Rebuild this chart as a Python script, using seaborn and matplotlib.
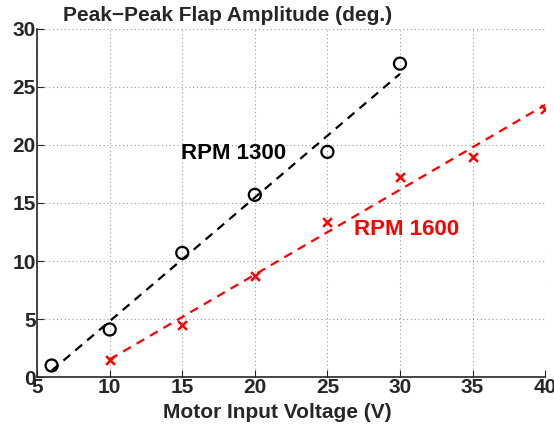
import matplotlib
matplotlib.use("Agg")
import matplotlib.pyplot as plt
import seaborn as sns
import pandas as pd

# Data
volt_1300 = [6, 10, 15, 20, 25, 30]
amp_1300 = [1.0, 4.1, 10.7, 15.7, 19.4, 27.0]
volt_1600 = [10, 15, 20, 25, 30, 35, 40]
amp_1600 = [1.5, 4.5, 8.7, 13.4, 17.2, 19.0, 23.1]

df1 = pd.DataFrame({"volt": volt_1300, "amp": amp_1300})
df2 = pd.DataFrame({"volt": volt_1600, "amp": amp_1600})

sns.set_style("ticks")
plt.rcParams["font.family"] = ["Liberation Sans", "DejaVu Sans"]
plt.rcParams["font.weight"] = "bold"

fig = plt.figure(figsize=(5.54, 4.30), dpi=100)
ax = fig.add_axes([0.067, 0.123, 0.917, 0.810])

# fitted dashed lines
sns.regplot(data=df1, x="volt", y="amp", ax=ax, scatter=False, ci=None,
            line_kws={"color": "black", "ls": (0, (4, 3)), "lw": 1.6})
sns.regplot(data=df2, x="volt", y="amp", ax=ax, scatter=False, ci=None,
            line_kws={"color": "red", "ls": (0, (4, 3)), "lw": 1.6})

# markers
sns.scatterplot(data=df1, x="volt", y="amp", ax=ax, marker="o", s=75,
                facecolor="none", edgecolor="black", linewidth=1.6, zorder=3)
sns.scatterplot(data=df2, x="volt", y="amp", ax=ax, marker="x", s=40,
                color="red", linewidth=1.8, zorder=3)

ax.text(14.9, 19.3, "RPM 1300", color="black", fontsize=16, fontweight="bold",
        va="center", ha="left")
ax.text(26.8, 12.7, "RPM 1600", color="red", fontsize=16, fontweight="bold",
        va="center", ha="left")

ax.set_xlim(5, 40)
ax.set_ylim(0, 30)
ax.set_xticks(range(5, 41, 5))
ax.set_yticks(range(0, 31, 5))
ax.grid(True, ls=(0, (1, 2.5)), color="#999999", lw=0.8)
ax.tick_params(direction="in", length=5, labelsize=15, pad=1)
for lab in ax.get_xticklabels() + ax.get_yticklabels():
    lab.set_fontweight("bold")
sns.despine(ax=ax)
ax.spines["left"].set_linewidth(1.2)
ax.spines["bottom"].set_linewidth(1.2)

ax.set_xlabel("")
ax.set_ylabel("")
fig.text(0.500, 0.040, "Motor Input Voltage (V)", fontsize=15,
         fontweight="bold", va="center", ha="center")
fig.text(0.114, 0.963, "Peak\u2212Peak Flap Amplitude (deg.)", fontsize=15,
         fontweight="bold", va="center", ha="left")

fig.savefig("out.png", dpi=100)
